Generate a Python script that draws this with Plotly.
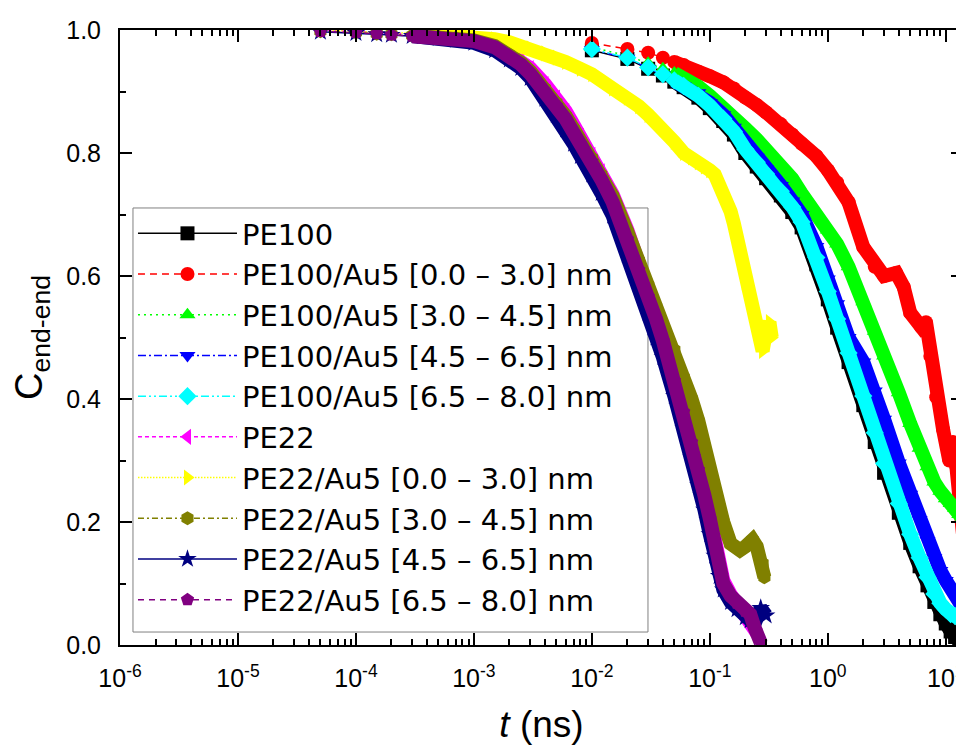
import math
import plotly.graph_objects as go

# ---------------- data ----------------
# PE100 family: time (ns)
t_pe100 = [0.01, 0.02, 0.03, 0.04, 0.05, 0.06, 0.08, 0.1, 0.13, 0.16, 0.2, 0.25, 0.3, 0.4, 0.5,
           0.6, 0.8, 1.0, 1.2, 1.5, 2.0, 2.5, 3.0, 4.0, 5.0, 6.0, 7.0, 8.0, 9.0, 10, 11, 12, 13, 14]
c_pe100 = [.967, .953, .937, .926, .916, .907, .89, .873, .852, .83, .80, .778, .759, .731, .704,
           .679, .619, .562, .516, .46, .39, .33, .28, .215, .166, .128, .097, .07, .05, .035, .022, .013, .007, .002]
t_au_0_3 = [0.01, 0.02, 0.03, 0.04, 0.05, 0.06, 0.08, 0.1, 0.13, 0.16, 0.2, 0.25, 0.3, 0.4, 0.5,
            0.6, 0.8, 1.0, 1.2, 1.5, 2.0, 2.5, 3.0, 3.8, 4.4, 5.0, 6.2, 6.8, 7.4, 8.3, 9.5,
            10.7, 11.5, 12.3, 13.2, 14]
c_au_0_3 = [.979, .969, .963, .955, .948, .943, .932, .925, .915, .905, .89, .878, .866, .847, .83,
            .815, .795, .772, .752, .72, .647, .615, .60, .605, .582, .54, .517, .525, .47, .403, .35,
            .30, .33, .29, .22, .18]
c_au_3_45 = [.972, .958, .946, .937, .930, .923, .908, .893, .875, .858, .84, .822, .806, .782, .758,
             .734, .70, .675, .652, .615, .558, .51, .47, .41, .36, .32, .29, .265, .25, .238, .23, .222, .212, .205]
c_au_45_65 = [.968, .954, .938, .927, .917, .909, .898, .882, .862, .842, .815, .793, .774, .747, .722,
              .70, .648, .595, .555, .50, .46, .413, .367, .296, .245, .204, .17, .142, .121, .105, .092, .08, .068, .06]
c_au_65_8 = [.969, .955, .939, .928, .918, .909, .893, .877, .856, .835, .806, .785, .766, .738, .712,
             .688, .630, .575, .53, .475, .405, .345, .295, .23, .18, .142, .11, .083, .068, .058, .05, .047, .045, .043]

# PE22 family: time (ns)
t_pe22 = [5e-5, 1e-4, 1.5e-4, 2e-4, 3e-4, 5e-4, 7e-4, 1e-3, 1.5e-3, 2e-3, 2.5e-3, 3e-3, 4e-3, 5e-3, 6e-3,
          7e-3, 8e-3, 0.01, 0.012, 0.015, 0.02, 0.025, 0.03, 0.035, 0.04, 0.05, 0.06, 0.07, 0.08, 0.09,
          0.1, 0.11, 0.12, 0.13, 0.15, 0.17, 0.2, 0.22, 0.25]
c_pe22 = [1.0, .998, .996, .995, .993, .99, .988, .985, .977, .963, .951, .938, .912, .89, .868,
          .846, .828, .797, .77, .733, .675, .622, .578, .54, .505, .44, .387, .337, .292, .25,
          .212, .176, .135, .105, .082, .066, .048, .038, .02]
t_s22_0_3 = [5e-5, 1e-4, 1.5e-4, 2e-4, 3e-4, 5e-4, 7e-4, 1e-3, 1.5e-3, 2e-3, 2.5e-3, 3e-3, 4e-3, 5e-3, 6e-3,
             8e-3, 0.01, 0.015, 0.02, 0.025, 0.03, 0.04, 0.05, 0.06, 0.07, 0.08, 0.09, 0.1, 0.11, 0.12,
             0.13, 0.14, 0.15, 0.16, 0.17, 0.18, 0.2, 0.22, 0.24, 0.26, 0.28, 0.3, 0.32, 0.335]
c_s22_0_3 = [1.0, .998, .997, .996, .995, .993, .992, .99, .985, .98, .974, .97, .962, .955, .948,
             .937, .928, .905, .89, .876, .862, .84, .818, .80, .793, .785, .778, .772, .765, .75,
             .735, .718, .705, .685, .66, .635, .59, .562, .53, .50, .478, .51, .525, .50]
t_s22_3_45 = [5e-5, 1e-4, 1.5e-4, 2e-4, 3e-4, 5e-4, 7e-4, 1e-3, 1.5e-3, 2e-3, 2.5e-3, 3e-3, 4e-3, 5e-3, 6e-3,
              7e-3, 8e-3, 0.01, 0.012, 0.015, 0.02, 0.025, 0.03, 0.035, 0.04, 0.05, 0.06, 0.07, 0.08, 0.09,
              0.1, 0.11, 0.12, 0.13, 0.15, 0.17, 0.18, 0.2, 0.23, 0.25, 0.28, 0.29]
c_s22_3_45 = [.998, .996, .994, .993, .991, .989, .987, .983, .974, .96, .947, .933, .905, .882, .86,
              .839, .82, .792, .765, .73, .672, .625, .585, .55, .52, .48, .435, .40, .364, .32,
              .285, .25, .225, .20, .165, .158, .154, .16, .171, .16, .133, .11]
t_s22_45_65 = [5e-5, 1e-4, 1.5e-4, 2e-4, 3e-4, 5e-4, 7e-4, 1e-3, 1.5e-3, 2e-3, 2.5e-3, 3e-3, 4e-3, 5e-3, 6e-3,
               7e-3, 8e-3, 0.01, 0.012, 0.015, 0.02, 0.025, 0.03, 0.035, 0.04, 0.05, 0.06, 0.07, 0.08, 0.09,
               0.1, 0.11, 0.12, 0.13, 0.15, 0.17, 0.2, 0.22, 0.24, 0.27, 0.3]
c_s22_45_65 = [.997, .995, .993, .992, .99, .987, .984, .979, .967, .952, .938, .922, .888, .862, .838,
               .815, .795, .765, .735, .698, .635, .585, .54, .50, .468, .405, .353, .305, .26, .22,
               .18, .145, .112, .09, .07, .058, .045, .04, .035, .06, .048]
t_s22_65_8 = [5e-5, 1e-4, 1.5e-4, 2e-4, 3e-4, 5e-4, 7e-4, 1e-3, 1.5e-3, 2e-3, 2.5e-3, 3e-3, 4e-3, 5e-3, 6e-3,
              7e-3, 8e-3, 0.01, 0.012, 0.015, 0.02, 0.025, 0.03, 0.035, 0.04, 0.05, 0.06, 0.07, 0.08, 0.09,
              0.1, 0.11, 0.12, 0.13, 0.15, 0.17, 0.2, 0.22, 0.24, 0.27]
c_s22_65_8 = [.998, .996, .994, .992, .99, .988, .986, .982, .972, .957, .944, .929, .90, .877, .855,
              .833, .815, .786, .757, .72, .66, .61, .567, .53, .495, .43, .379, .33, .285, .243,
              .205, .17, .128, .10, .08, .068, .055, .05, .028, .004]

names = ["PE100", "PE100/Au5 [0.0 \u2013 3.0] nm", "PE100/Au5 [3.0 \u2013 4.5] nm",
         "PE100/Au5 [4.5 \u2013 6.5] nm", "PE100/Au5 [6.5 \u2013 8.0] nm", "PE22",
         "PE22/Au5 [0.0 \u2013 3.0] nm", "PE22/Au5 [3.0 \u2013 4.5] nm",
         "PE22/Au5 [4.5 \u2013 6.5] nm", "PE22/Au5 [6.5 \u2013 8.0] nm"]
xs = [t_pe100, t_au_0_3, t_pe100, t_pe100, t_pe100, t_pe22, t_s22_0_3, t_s22_3_45, t_s22_45_65, t_s22_65_8]
ys = [c_pe100, c_au_0_3, c_au_3_45, c_au_45_65, c_au_65_8, c_pe22, c_s22_0_3, c_s22_3_45, c_s22_45_65, c_s22_65_8]

# ---------------- styles ----------------
colors = ["#000000", "#ff0000", "#00ff00", "#0000ff", "#00ffff", "#ff00ff", "#ffff00", "#808000", "#000080", "#800080"]
dashes = ["solid", "7px,5px", "2px,4px", "8px,3px,2px,3px", "8px,3px,2px,3px,2px,3px",
          "4px,3px", "1.5px,1.5px", "6px,3px,2px,3px", "solid", "6px,5px"]
symbols = ["square", "circle", "triangle-up", "triangle-down", "diamond", "triangle-left",
           "triangle-right", "hexagon", "star", "pentagon"]
FONT = "Liberation Sans, Arial, Helvetica, sans-serif"
LEGEND_FONT = "DejaVu Sans, Liberation Sans, Arial, sans-serif"

fig = go.Figure()
for name, x, y, col, dsh, sym in zip(names, xs, ys, colors, dashes, symbols):
    # thick band formed by the densely-sampled data in the reference
    fig.add_trace(go.Scatter(x=x[4:], y=y[4:], mode="lines", showlegend=False, hoverinfo="skip",
                             line=dict(color=col, width=14)))
    fig.add_trace(go.Scatter(x=x, y=y, mode="lines+markers", name=name,
                             line=dict(color=col, width=1.5, dash=dsh),
                             marker=dict(symbol=sym, size=14, color=col, line=dict(width=0))))

xt_vals = [1e-6, 1e-5, 1e-4, 1e-3, 1e-2, 1e-1, 1e0, 1e1]
xt_text = ["10<sup>-6</sup>", "10<sup>-5</sup>", "10<sup>-4</sup>", "10<sup>-3</sup>",
           "10<sup>-2</sup>", "10<sup>-1</sup>", "10<sup>0</sup>", "10<sup>1</sup>"]
x_minor = [m * 10.0 ** e for e in range(-6, 2) for m in range(2, 10)]

# the page body has an 8px margin, so margins are reduced by 8px to land on the reference frame
fig.update_layout(
    width=964, height=749,
    margin=dict(l=112, r=9, t=22, b=112),
    paper_bgcolor="white", plot_bgcolor="white",
    font=dict(family=FONT, size=25, color="black"),
    legend=dict(x=0.0154, y=0.7106, xanchor="left", yanchor="top", bgcolor="rgba(0,0,0,0)",
                borderwidth=0, font=dict(size=29, family=LEGEND_FONT),
                itemwidth=99, tracegroupgap=0),
    # legend frame (grey border) drawn underneath the curves, as in the reference
    shapes=[dict(type="rect", xref="x domain", yref="y domain", x0=0.0154, x1=0.6263,
                 y0=0.0211, y1=0.7106, fillcolor="white", line=dict(color="#808080", width=1),
                 layer="below")],
)
fig.update_xaxes(type="log", range=[-6, math.log10(14)], tickmode="array", tickvals=xt_vals,
                 ticktext=xt_text, ticks="inside", ticklen=12, tickwidth=2, tickcolor="black",
                 showline=True, linewidth=2, linecolor="black", mirror="ticks", automargin=False,
                 ticklabeloverflow="allow",
                 showgrid=False, zeroline=False, ticklabelstandoff=10,
                 minor=dict(ticks="inside", ticklen=6, tickwidth=1.5, tickcolor="black", tickvals=x_minor),
                 title=dict(text="<i>t</i> (ns)", font=dict(size=37, family=FONT), standoff=20))
fig.update_yaxes(range=[0, 1], tickmode="linear", tick0=0, dtick=0.2, tickformat=".1f",
                 ticks="inside", ticklen=12, tickwidth=2, tickcolor="black",
                 showline=True, linewidth=2, linecolor="black", mirror="ticks", automargin=False,
                 ticklabeloverflow="allow",
                 showgrid=False, zeroline=False, ticklabelstandoff=12,
                 minor=dict(ticks="inside", ticklen=6, tickwidth=1.5, tickcolor="black", dtick=0.1),
                 title=dict(text="C<sub>end-end</sub>", font=dict(size=38, family=FONT), standoff=14))

fig.write_html("out.html")
